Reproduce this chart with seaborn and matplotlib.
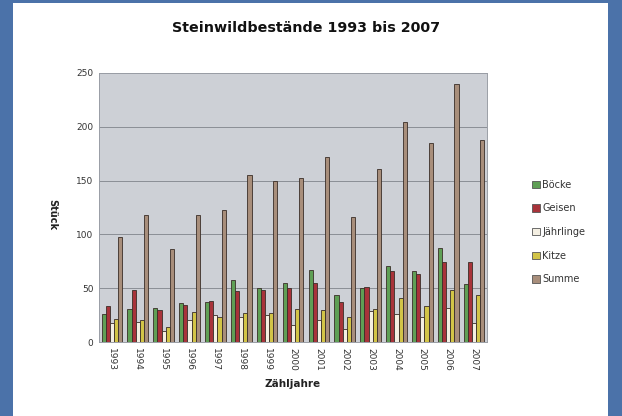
import matplotlib
matplotlib.use("Agg")
import matplotlib.pyplot as plt
import matplotlib.patches as mpatches
import numpy as np
import pandas as pd
import seaborn as sns

# Steinwildbestände je Zähljahr
jahre = ["1993", "1994", "1995", "1996", "1997", "1998", "1999", "2000",
         "2001", "2002", "2003", "2004", "2005", "2006", "2007"]
boecke = [26, 31, 32, 36, 37, 58, 50, 55, 67, 44, 50, 71, 66, 87, 54]
geisen = [33, 48, 30, 34, 38, 47, 48, 50, 55, 37, 51, 66, 63, 74, 74]
jaehrlinge = [18, 19, 10, 20, 25, 23, 25, 16, 20, 12, 29, 26, 23, 32, 18]
kitze = [21, 20, 14, 28, 23, 27, 27, 31, 30, 23, 31, 41, 33, 48, 44]
summe = [98, 118, 86, 118, 123, 155, 150, 152, 172, 116, 161, 204, 185, 240, 188]

klassen = ["Böcke", "Geisen", "Jährlinge", "Kitze", "Summe"]
farben = ["#5f9f55", "#a8333a", "#f4efe2", "#d2c447", "#a88e7b"]

df = pd.DataFrame({
    "Jahr": jahre * 5,
    "Klasse": [k for k in klassen for _ in jahre],
    "Anzahl": boecke + geisen + jaehrlinge + kitze + summe,
})

sns.set_style("white")
plt.rcParams["font.family"] = ["DejaVu Sans"]

fig = plt.figure(figsize=(6.22, 4.16), dpi=100)
fig.patch.set_facecolor("#4b72a9")
# white chart panel (behind the axes)
fig.patches.append(mpatches.Rectangle((13 / 622, 0), 595 / 622, 413 / 416,
                                      transform=fig.transFigure,
                                      facecolor="white", edgecolor="none", zorder=-5))

ax = fig.add_axes([99 / 622, 1 - 342 / 416, 388 / 622, 269 / 416])
ax.set_facecolor("#cdd0d6")

sns.barplot(data=df, x="Jahr", y="Anzahl", hue="Klasse", palette=farben,
            saturation=1, width=0.8, edgecolor="#3a2e28", linewidth=0.6,
            ax=ax, legend=False, zorder=3)

ax.set_ylim(0, 250)
ax.set_yticks(np.arange(0, 251, 50))
ax.yaxis.grid(True, color="#8a8e96", linewidth=0.7, zorder=0)
ax.set_axisbelow(True)
for s in ax.spines.values():
    s.set_color("#9a9ea6")
    s.set_linewidth(0.7)

ax.tick_params(axis="both", labelsize=6.5, colors="#333333", length=0, pad=4)
for lbl in ax.get_xticklabels():
    lbl.set_rotation(-90)
    lbl.set_va("top")
    lbl.set_ha("center")

ax.set_xlabel("Zähljahre", fontsize=7.5, fontweight="bold", color="#222222", labelpad=6)
ax.set_ylabel("")
fig.text(52 / 622, 1 - 215 / 416, "Stück", rotation=-90, fontsize=7,
         fontweight="bold", color="#222222", ha="center", va="center")

fig.text(306 / 622, 1 - 28 / 416, "Steinwildbestände 1993 bis 2007",
         fontsize=10.3, fontweight="bold", color="#111111", ha="center", va="center")

handles = [mpatches.Patch(facecolor=c, edgecolor="#555555", linewidth=0.6) for c in farben]
fig.legend(handles, klassen, loc="center left",
           bbox_to_anchor=(523 / 622, 1 - 232 / 416), frameon=False,
           fontsize=7, handlelength=0.8, handleheight=0.8,
           handletextpad=0.3, labelspacing=1.4, labelcolor="#333333")

fig.savefig("out.png", dpi=100, facecolor=fig.get_facecolor())
